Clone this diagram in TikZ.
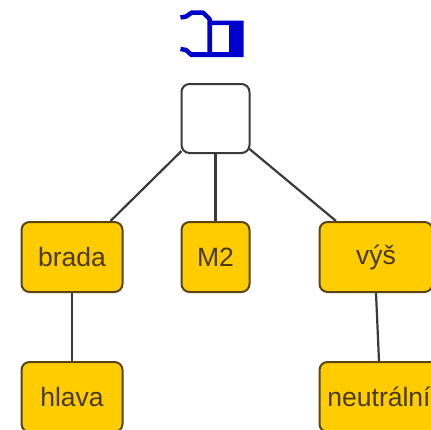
\documentclass[tikz,border=0pt]{standalone}
\usepackage{fontspec}
\setmainfont{Liberation Sans}
\definecolor{boxfill}{HTML}{FFCC00}
\definecolor{boxedge}{HTML}{5A4510}
\definecolor{boxtext}{HTML}{4A3A08}
\definecolor{iconblue}{HTML}{0000CC}
\definecolor{linkc}{HTML}{3A3A3A}
\begin{document}
\begin{tikzpicture}[x=1pt,y=-1pt,
  boxbase/.style={draw=boxedge,line width=2pt,rounded corners=8pt,inner sep=0pt,anchor=north west,font=\fontsize{26.5}{26.5}\selectfont,text=boxtext,fill=boxfill},
  rootbox/.style={boxbase,draw=linkc,fill=white},
  link/.style={draw=linkc,line width=2.2pt}]
\useasboundingbox (0,0) rectangle (431,429);
\clip (0,0) rectangle (431,429);
\node[rootbox,minimum width=68pt,minimum height=69pt] (root) at (180.5,83) {};
\node[boxbase,minimum width=101pt,minimum height=70pt] (brada) at (20.5,221) {brada};
\node[boxbase,minimum width=68pt,minimum height=70pt] (m2) at (180.5,221) {M2};
\node[boxbase,minimum width=113pt,minimum height=70pt] (vys) at (318.5,221) {výš};
\node[boxbase,minimum width=101pt,minimum height=70pt] (hlava) at (20.5,361) {hlava};
\node[boxbase,minimum width=119pt,minimum height=70pt] (neutral) at (318.5,361) {neutrální};
\draw[link] (root.south west) ++(1,-3) coordinate (a) -- ([xshift=-13pt]brada.north east);
\draw[link] (root.south) -- (m2.north);
\draw[link] (root.south east) ++(-1,-5) coordinate (b) -- ([xshift=-40pt]vys.north);
\draw[link] (brada.south) -- (hlava.north);
\draw[link] (vys.south) -- (neutral.north);
% icon
\draw[iconblue,line width=4.5pt,line join=round]
  (180.5,17.5) -- (186,16.5) -- (192,12.5) -- (203,12.5) -- (209.5,19) -- (209.5,54);
\draw[iconblue,line width=4.5pt,line join=round]
  (180.5,49) -- (186,50) -- (191,54.5);
\fill[iconblue,even odd rule] (190,52) -- (210,52) -- (210,20.5) -- (243.5,20.5) -- (243.5,57) -- (190,57) -- cycle
  (212,25) rectangle (229,52);
\end{tikzpicture}
\end{document}
